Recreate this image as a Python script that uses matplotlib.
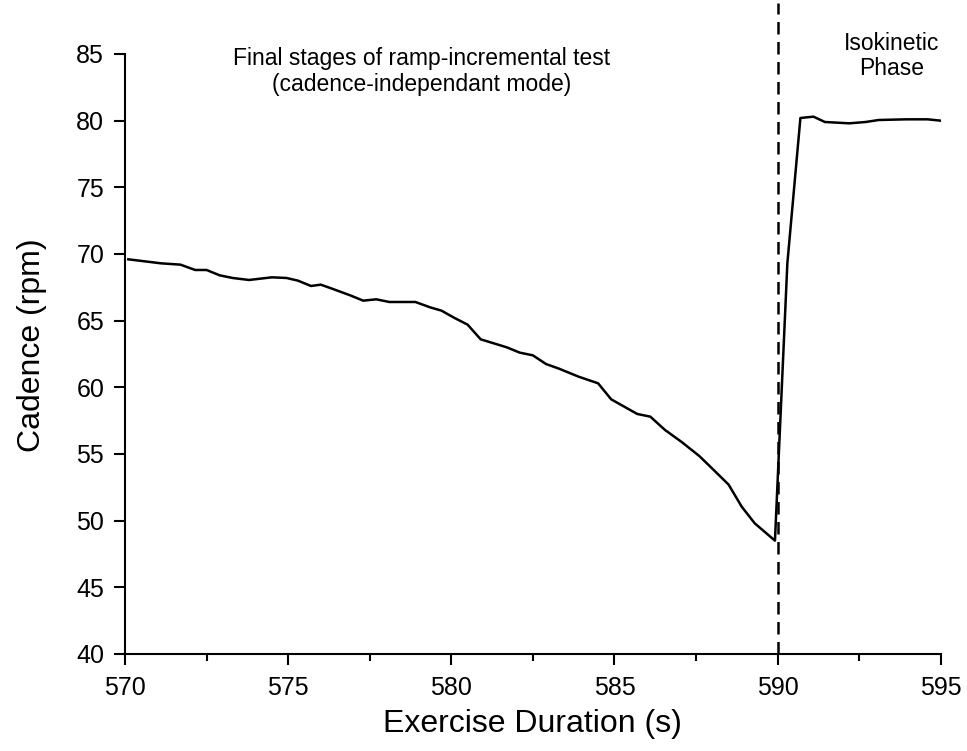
import matplotlib
matplotlib.use('Agg')
import matplotlib.pyplot as plt
from matplotlib.ticker import MultipleLocator

plt.rcParams['font.family'] = ['Liberation Sans', 'DejaVu Sans']

# Cadence trace
time_s = [570.1, 570.6, 571.1, 571.7, 572.15, 572.5, 572.9, 573.3, 573.8, 574.5, 574.95, 575.3,
          575.7, 576.0, 576.4, 576.9, 577.3, 577.7, 578.1, 578.9, 579.35, 579.7,
          580.1, 580.5, 580.9, 581.3, 581.7, 582.1, 582.5, 582.9, 583.3, 583.9,
          584.5, 584.9, 585.3, 585.7, 586.1, 586.55, 587.06, 587.6, 588.0, 588.5,
          588.9, 589.3, 589.92, 590.3, 590.7, 591.1, 591.45, 592.2, 592.7, 593.1,
          593.95, 594.6, 595.0]
cadence = [69.6, 69.45, 69.3, 69.2, 68.8, 68.8, 68.4, 68.2, 68.05, 68.25, 68.2, 68.0,
           67.6, 67.7, 67.35, 66.9, 66.5, 66.6, 66.4, 66.4, 66.0, 65.75,
           65.2, 64.7, 63.6, 63.3, 63.0, 62.6, 62.4, 61.75, 61.4, 60.8,
           60.3, 59.1, 58.55, 58.0, 57.8, 56.8, 55.9, 54.85, 53.9, 52.7,
           51.05, 49.8, 48.5, 69.3, 80.2, 80.3, 79.9, 79.8, 79.9, 80.05,
           80.1, 80.1, 80.0]
switch_time = 590
xticks = [570, 575, 580, 585, 590, 595]
yticks = [40, 45, 50, 55, 60, 65, 70, 75, 80, 85]

fig = plt.figure(figsize=(9.67, 7.51), dpi=100)
ax = fig.add_axes([0.1293, 0.1292, 0.8435, 0.7989])

ax.plot(time_s, cadence, color='black', lw=1.8)
ax.plot([switch_time, switch_time], [40, 88.8], color='black', lw=1.8,
        dashes=(5, 3), clip_on=False)

ax.set_xlim(570, 595)
ax.set_ylim(40, 85)
ax.set_xticks(xticks)
ax.set_yticks(yticks)
ax.xaxis.set_minor_locator(MultipleLocator(2.5))

for s in ['top', 'right']:
    ax.spines[s].set_visible(False)
for s in ['left', 'bottom']:
    ax.spines[s].set_linewidth(1.5)
ax.tick_params(which='major', length=8, width=1.5, labelsize=18, direction='out')
ax.tick_params(axis='x', which='major', pad=8)
ax.tick_params(axis='y', which='major', pad=7)
ax.tick_params(which='minor', length=5, width=1.5, direction='out')

ax.set_xlabel('Exercise Duration (s)', fontsize=23, labelpad=6)
ax.set_ylabel('Cadence (rpm)', fontsize=23, labelpad=21)
ax.yaxis.label.set_y(0.515)

ax.text(579.1, 83.7, 'Final stages of ramp-incremental test\n(cadence-independant mode)',
        ha='center', va='center', fontsize=16.5, linespacing=1.15)
ax.text(593.5, 84.85, 'Isokinetic\nPhase', ha='center', va='center',
        fontsize=16.5, linespacing=1.15, clip_on=False)

fig.savefig('out.png', dpi=100)
